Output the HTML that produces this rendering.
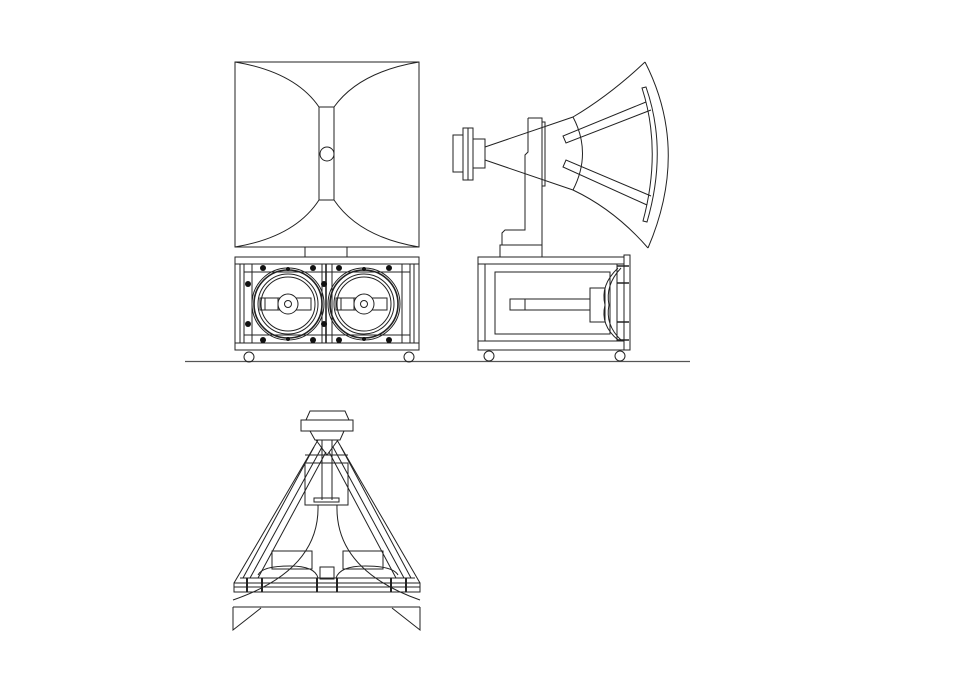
<!DOCTYPE html>
<html><head><style>html,body{margin:0;padding:0;background:#fff}svg{display:block}</style></head>
<body>
<svg width="975" height="689" viewBox="0 0 975 689" xmlns="http://www.w3.org/2000/svg" fill="none" stroke="#222" stroke-width="1">
<!-- ground -->
<line x1="185" y1="361.5" x2="690" y2="361.5" stroke="#555" stroke-width="1.3"/>

<!-- FRONT VIEW horn -->
<rect x="235" y="62" width="184" height="185"/>
<rect x="319" y="107" width="15" height="93"/>
<circle cx="327" cy="154" r="7"/>
<path d="M235 62 Q295 72 319 107"/>
<path d="M419 62 Q359 72 334 107"/>
<path d="M235 247 Q295 237 319 200"/>
<path d="M419 247 Q359 237 334 200"/>
<line x1="305" y1="247" x2="305" y2="257"/>
<line x1="347" y1="247" x2="347" y2="257"/>
<!-- front cabinet -->
<rect x="235" y="257" width="184" height="93"/>
<line x1="235" y1="264" x2="419" y2="264"/>
<line x1="235" y1="343" x2="419" y2="343"/>
<line x1="240" y1="264" x2="240" y2="343"/><line x1="244" y1="264" x2="244" y2="343"/>
<line x1="414" y1="264" x2="414" y2="343"/><line x1="410" y1="264" x2="410" y2="343"/>
<line x1="252" y1="264" x2="252" y2="343"/><line x1="402" y1="264" x2="402" y2="343"/>
<line x1="322" y1="264" x2="322" y2="343"/><line x1="332" y1="264" x2="332" y2="343"/>
<line x1="326" y1="264" x2="326" y2="343" stroke-width="1.6"/>
<line x1="244" y1="272" x2="410" y2="272"/><line x1="244" y1="335" x2="410" y2="335"/>
<g id="drv">
<circle cx="288" cy="304" r="36"/>
<circle cx="288" cy="304" r="34" stroke-width="1.6"/>
<circle cx="288" cy="304" r="30"/>
<circle cx="288" cy="304" r="27"/>
<rect x="260" y="298" width="51" height="12"/>
<line x1="265" y1="298" x2="265" y2="310"/>
<line x1="278" y1="298" x2="278" y2="310"/>
<circle cx="288" cy="304" r="10" fill="#fff"/>
<circle cx="288" cy="304" r="3.5"/>
<g fill="#111" stroke="none">
<circle cx="263" cy="268" r="3"/><circle cx="313" cy="268" r="3"/>
<circle cx="248" cy="284" r="3"/><circle cx="248" cy="324" r="3"/>
<circle cx="263" cy="340" r="3"/><circle cx="313" cy="340" r="3"/>
<circle cx="288" cy="269" r="2"/><circle cx="288" cy="339" r="2"/>
</g>
</g>
<use href="#drv" transform="translate(76 0)"/>
<circle cx="249" cy="357" r="5"/><circle cx="409" cy="357" r="5"/>

<!-- SIDE VIEW -->
<path d="M453 135 H463 V172 H453 Z"/>
<path d="M463 128 H473 V180 H463 Z"/>
<line x1="468" y1="128" x2="468" y2="180"/>
<path d="M473 139 H485 V168 H473 Z"/>
<path d="M485 147 L573 117 Q610 95 645 62"/>
<path d="M485 160 L573 190 Q615 210 648 248"/>
<path d="M645 62 Q690 150 648 248"/>
<path d="M573 117 Q592 153 573 190"/>
<!-- T brace -->
<path d="M642 88 L646 87 Q668 150 647 222 L643 221 Q662 150 642 88 Z"/>
<path d="M646 102 L563 136 L566 143 L651 110"/>
<path d="M651 196 L566 160 L563 167 L647 205"/>
<!-- post -->
<path d="M528 118 H542 V245"/>
<path d="M528 118 V152 L525 155 V230 H505 L502 233 V245"/>
<rect x="542" y="122" width="3" height="64"/>
<rect x="500" y="245" width="42" height="12"/>
<!-- side cabinet -->
<rect x="478" y="257" width="146" height="93"/>
<line x1="478" y1="264" x2="624" y2="264"/>
<line x1="478" y1="341" x2="624" y2="341"/>
<rect x="485" y="264" width="132" height="77"/>
<rect x="495" y="272" width="115" height="62"/>
<rect x="624" y="255" width="6" height="95"/>
<rect x="510" y="299" width="80" height="11"/>
<line x1="525" y1="299" x2="525" y2="310"/>
<rect x="590" y="288" width="15" height="34"/>
<path d="M618 268 Q600 285 605 305 Q600 325 618 340"/>
<path d="M621 268 Q605 285 609 305 Q605 325 621 340"/>
<g stroke-width="1.5"><line x1="617" y1="266" x2="629" y2="266"/><line x1="617" y1="283" x2="629" y2="283"/><line x1="617" y1="322" x2="629" y2="322"/><line x1="617" y1="340" x2="629" y2="340"/></g>
<circle cx="489" cy="356" r="5"/><circle cx="620" cy="356" r="5"/>

<!-- BOTTOM VIEW -->
<path d="M306 420 L310 411 H345 L349 420"/>
<rect x="301" y="420" width="52" height="11"/>
<path d="M310 431 L315 440 H340 L344 431"/>
<rect x="305" y="463" width="43" height="42"/>
<line x1="322" y1="440" x2="322" y2="500"/><line x1="332" y1="440" x2="332" y2="500"/>
<rect x="314" y="498" width="25" height="4"/>
<line x1="305" y1="455" x2="348" y2="455"/>
<!-- triangle legs -->
<path d="M318 440 L234 583"/><path d="M314 447 L243 578"/><path d="M322 447 L250 578"/><path d="M326 452 L258 578"/>
<path d="M337 440 L420 583"/><path d="M341 447 L411 578"/><path d="M333 447 L404 578"/><path d="M329 452 L396 578"/>
<path d="M316 440 L327 455 L338 440"/>
<!-- horn curves -->
<path d="M318 505 Q320 570 233 600"/>
<path d="M337 505 Q335 570 420 600"/>
<!-- woofers -->
<rect x="272" y="551" width="40" height="18"/>
<rect x="343" y="551" width="40" height="18"/>
<path d="M258 575 Q262 566 290 566 Q315 566 318 578"/>
<path d="M336 578 Q340 566 365 566 Q393 566 398 575"/>
<rect x="320" y="567" width="14" height="12"/>
<line x1="240" y1="578" x2="415" y2="578"/>
<rect x="234" y="583" width="186" height="9"/>
<line x1="234" y1="587" x2="420" y2="587"/>
<g stroke-width="2"><line x1="247" y1="578" x2="247" y2="592"/><line x1="262" y1="578" x2="262" y2="592"/><line x1="317" y1="578" x2="317" y2="592"/><line x1="337" y1="578" x2="337" y2="592"/><line x1="391" y1="578" x2="391" y2="592"/><line x1="406" y1="578" x2="406" y2="592"/></g>
<!-- lower flap -->
<line x1="233" y1="607" x2="420" y2="607"/>
<path d="M233 607 V630 L261 608"/>
<path d="M420 607 V630 L392 608"/>
</svg>
</body></html>
